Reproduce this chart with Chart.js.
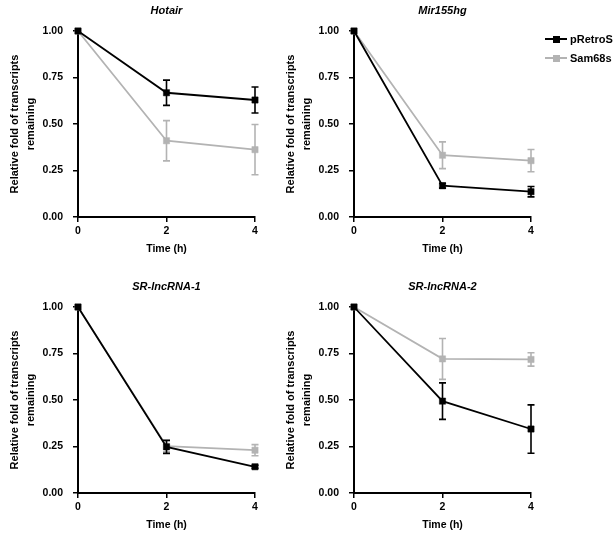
<!DOCTYPE html>
<html>
<head>
<meta charset="utf-8">
<script src="https://cdn.jsdelivr.net/npm/chart.js@4.4.0/dist/chart.umd.min.js"></script>
<style>
    body { margin: 0; background: #fff; }
    #fig { position: relative; width: 614px; height: 537px; overflow: hidden; font-family: "Liberation Sans", Arial, sans-serif; }
    #fig canvas { position: absolute; }
    .key { position: absolute; left: 545px; height: 14px; white-space: nowrap; font-size: 11px; font-weight: bold; color: #000; }
    .key .ln { position: absolute; left: 0; top: 6px; width: 22px; height: 1.8px; }
    .key .mk { position: absolute; left: 7.5px; top: 3.5px; width: 7px; height: 7px; }
    .key .tx { position: absolute; left: 25px; top: 0; line-height: 14px; }
</style>
</head>
<body>
<div id="fig">
    <canvas id="c1" width="276" height="261" style="left:0;top:0"></canvas>
    <canvas id="c2" width="276" height="261" style="left:276px;top:0"></canvas>
    <canvas id="c3" width="276" height="261" style="left:0;top:276px"></canvas>
    <canvas id="c4" width="276" height="261" style="left:276px;top:276px"></canvas>
    <div class="key" style="top:32px"><span class="ln" style="background:#000"></span><span class="mk" style="background:#000"></span><span class="tx">pRetroS</span></div>
    <div class="key" style="top:51px"><span class="ln" style="background:#b3b3b3"></span><span class="mk" style="background:#b3b3b3"></span><span class="tx">Sam68s</span></div>
</div>
<script>
"use strict"

const times = [0, 2, 4]
const seriesNames = ["pRetroS", "Sam68s"]
const panelTitles = ["Hotair", "Mir155hg", "SR-lncRNA-1", "SR-lncRNA-2"]

// mean and error (SEM) per panel
const hotairRetro = [1, 0.668, 0.629]
const hotairRetroErr = [0, 0.068, 0.07]
const hotairSam = [1, 0.41, 0.362]
const hotairSamErr = [0, 0.108, 0.135]

const mirRetro = [1, 0.168, 0.136]
const mirRetroErr = [0, 0.013, 0.028]
const mirSam = [1, 0.332, 0.303]
const mirSamErr = [0, 0.072, 0.06]

const sr1Retro = [1, 0.248, 0.141]
const sr1RetroErr = [0, 0.035, 0.008]
const sr1Sam = [1, 0.252, 0.23]
const sr1SamErr = [0, 0.03, 0.03]

const sr2Retro = [1, 0.494, 0.344]
const sr2RetroErr = [0, 0.098, 0.13]
const sr2Sam = [1, 0.721, 0.718]
const sr2SamErr = [0, 0.11, 0.036]

const yTicks = [0, 0.25, 0.5, 0.75, 1]

const FONT = '"Liberation Sans", Arial, sans-serif'
const BLACK = '#000'
const GREY = '#b3b3b3'

// draws each dataset's error bars just before the dataset itself
const errorBars = {
    id: 'errorBars',
    beforeDatasetDraw(chart, args) {
        let ds = chart.data.datasets[args.index]
        if (!ds.errors) return
        let yScale = chart.scales.y
        let ctx = chart.ctx
        ctx.save()
        ctx.strokeStyle = ds.borderColor
        ctx.lineWidth = 1.6
        args.meta.data.forEach((pt, i) => {
            let e = ds.errors[i]
            if (!e) return
            let v = ds.data[i].y
            let top = yScale.getPixelForValue(v + e)
            let bot = yScale.getPixelForValue(v - e)
            ctx.beginPath()
            ctx.moveTo(pt.x, top)
            ctx.lineTo(pt.x, bot)
            ctx.moveTo(pt.x - 3.5, top)
            ctx.lineTo(pt.x + 3.5, top)
            ctx.moveTo(pt.x - 3.5, bot)
            ctx.lineTo(pt.x + 3.5, bot)
            ctx.stroke()
        })
        ctx.restore()
    }
}

function toPoints(values) {
    return times.map((t, i) => ({ x: t, y: values[i] }))
}

function makeDataset(label, values, errors, color) {
    return {
        label: label,
        data: toPoints(values),
        errors: errors,
        borderColor: color,
        backgroundColor: color,
        borderWidth: 1.8,
        pointStyle: 'rect',
        pointRadius: 4.4,
        pointBorderWidth: 0.5,
        pointBackgroundColor: color,
        pointBorderColor: color,
        tension: 0,
        clip: false
    }
}

function drawPanel(id, title, retro, retroErr, sam, samErr) {
    let ctx = document.getElementById(id).getContext('2d')

    let axisGrid = {
        drawOnChartArea: false,
        drawTicks: true,
        tickLength: 5,
        color: BLACK,
        lineWidth: 1.5
    }

    new Chart(ctx, {
        type: 'line',
        data: {
            datasets: [
                makeDataset(seriesNames[0], retro, retroErr, BLACK),
                makeDataset(seriesNames[1], sam, samErr, GREY)
            ]
        },
        options: {
            responsive: false,
            animation: false,
            layout: { padding: { left: 0, right: 21, top: 0, bottom: 0 } },
            plugins: {
                legend: { display: false },
                tooltip: { enabled: false },
                title: {
                    display: true,
                    text: title,
                    fullSize: false,
                    color: BLACK,
                    font: { family: FONT, size: 11, weight: 'bold', style: 'italic', lineHeight: 1.2 },
                    padding: { top: 4, bottom: 13.8 }
                }
            },
            scales: {
                x: {
                    type: 'linear',
                    min: 0,
                    max: 4,
                    afterBuildTicks: s => { s.ticks = times.map(t => ({ value: t })) },
                    afterFit: s => { s.height = 44 },
                    ticks: {
                        color: BLACK,
                        padding: 3,
                        font: { family: FONT, size: 10.5, weight: 'bold' }
                    },
                    grid: axisGrid,
                    border: { display: true, color: BLACK, width: 2 },
                    title: {
                        display: true,
                        text: 'Time (h)',
                        color: BLACK,
                        font: { family: FONT, size: 10.5, weight: 'bold', lineHeight: 1.2 },
                        padding: { top: 0, bottom: 5.7 }
                    }
                },
                y: {
                    min: 0,
                    max: 1,
                    afterBuildTicks: s => { s.ticks = yTicks.map(v => ({ value: v })) },
                    afterFit: s => { s.width = 78 },
                    ticks: {
                        color: BLACK,
                        padding: 10,
                        font: { family: FONT, size: 10.5, weight: 'bold' },
                        callback: v => v.toFixed(2)
                    },
                    grid: axisGrid,
                    border: { display: true, color: BLACK, width: 2 },
                    title: {
                        display: true,
                        text: ['Relative fold of transcripts', 'remaining'],
                        color: BLACK,
                        font: { family: FONT, size: 11, weight: 'bold', lineHeight: 16 / 11 },
                        padding: { top: 6.5, bottom: 0 }
                    }
                }
            }
        },
        plugins: [errorBars]
    })
}

drawPanel('c1', panelTitles[0], hotairRetro, hotairRetroErr, hotairSam, hotairSamErr)
drawPanel('c2', panelTitles[1], mirRetro, mirRetroErr, mirSam, mirSamErr)
drawPanel('c3', panelTitles[2], sr1Retro, sr1RetroErr, sr1Sam, sr1SamErr)
drawPanel('c4', panelTitles[3], sr2Retro, sr2RetroErr, sr2Sam, sr2SamErr)
</script>
</body>
</html>
